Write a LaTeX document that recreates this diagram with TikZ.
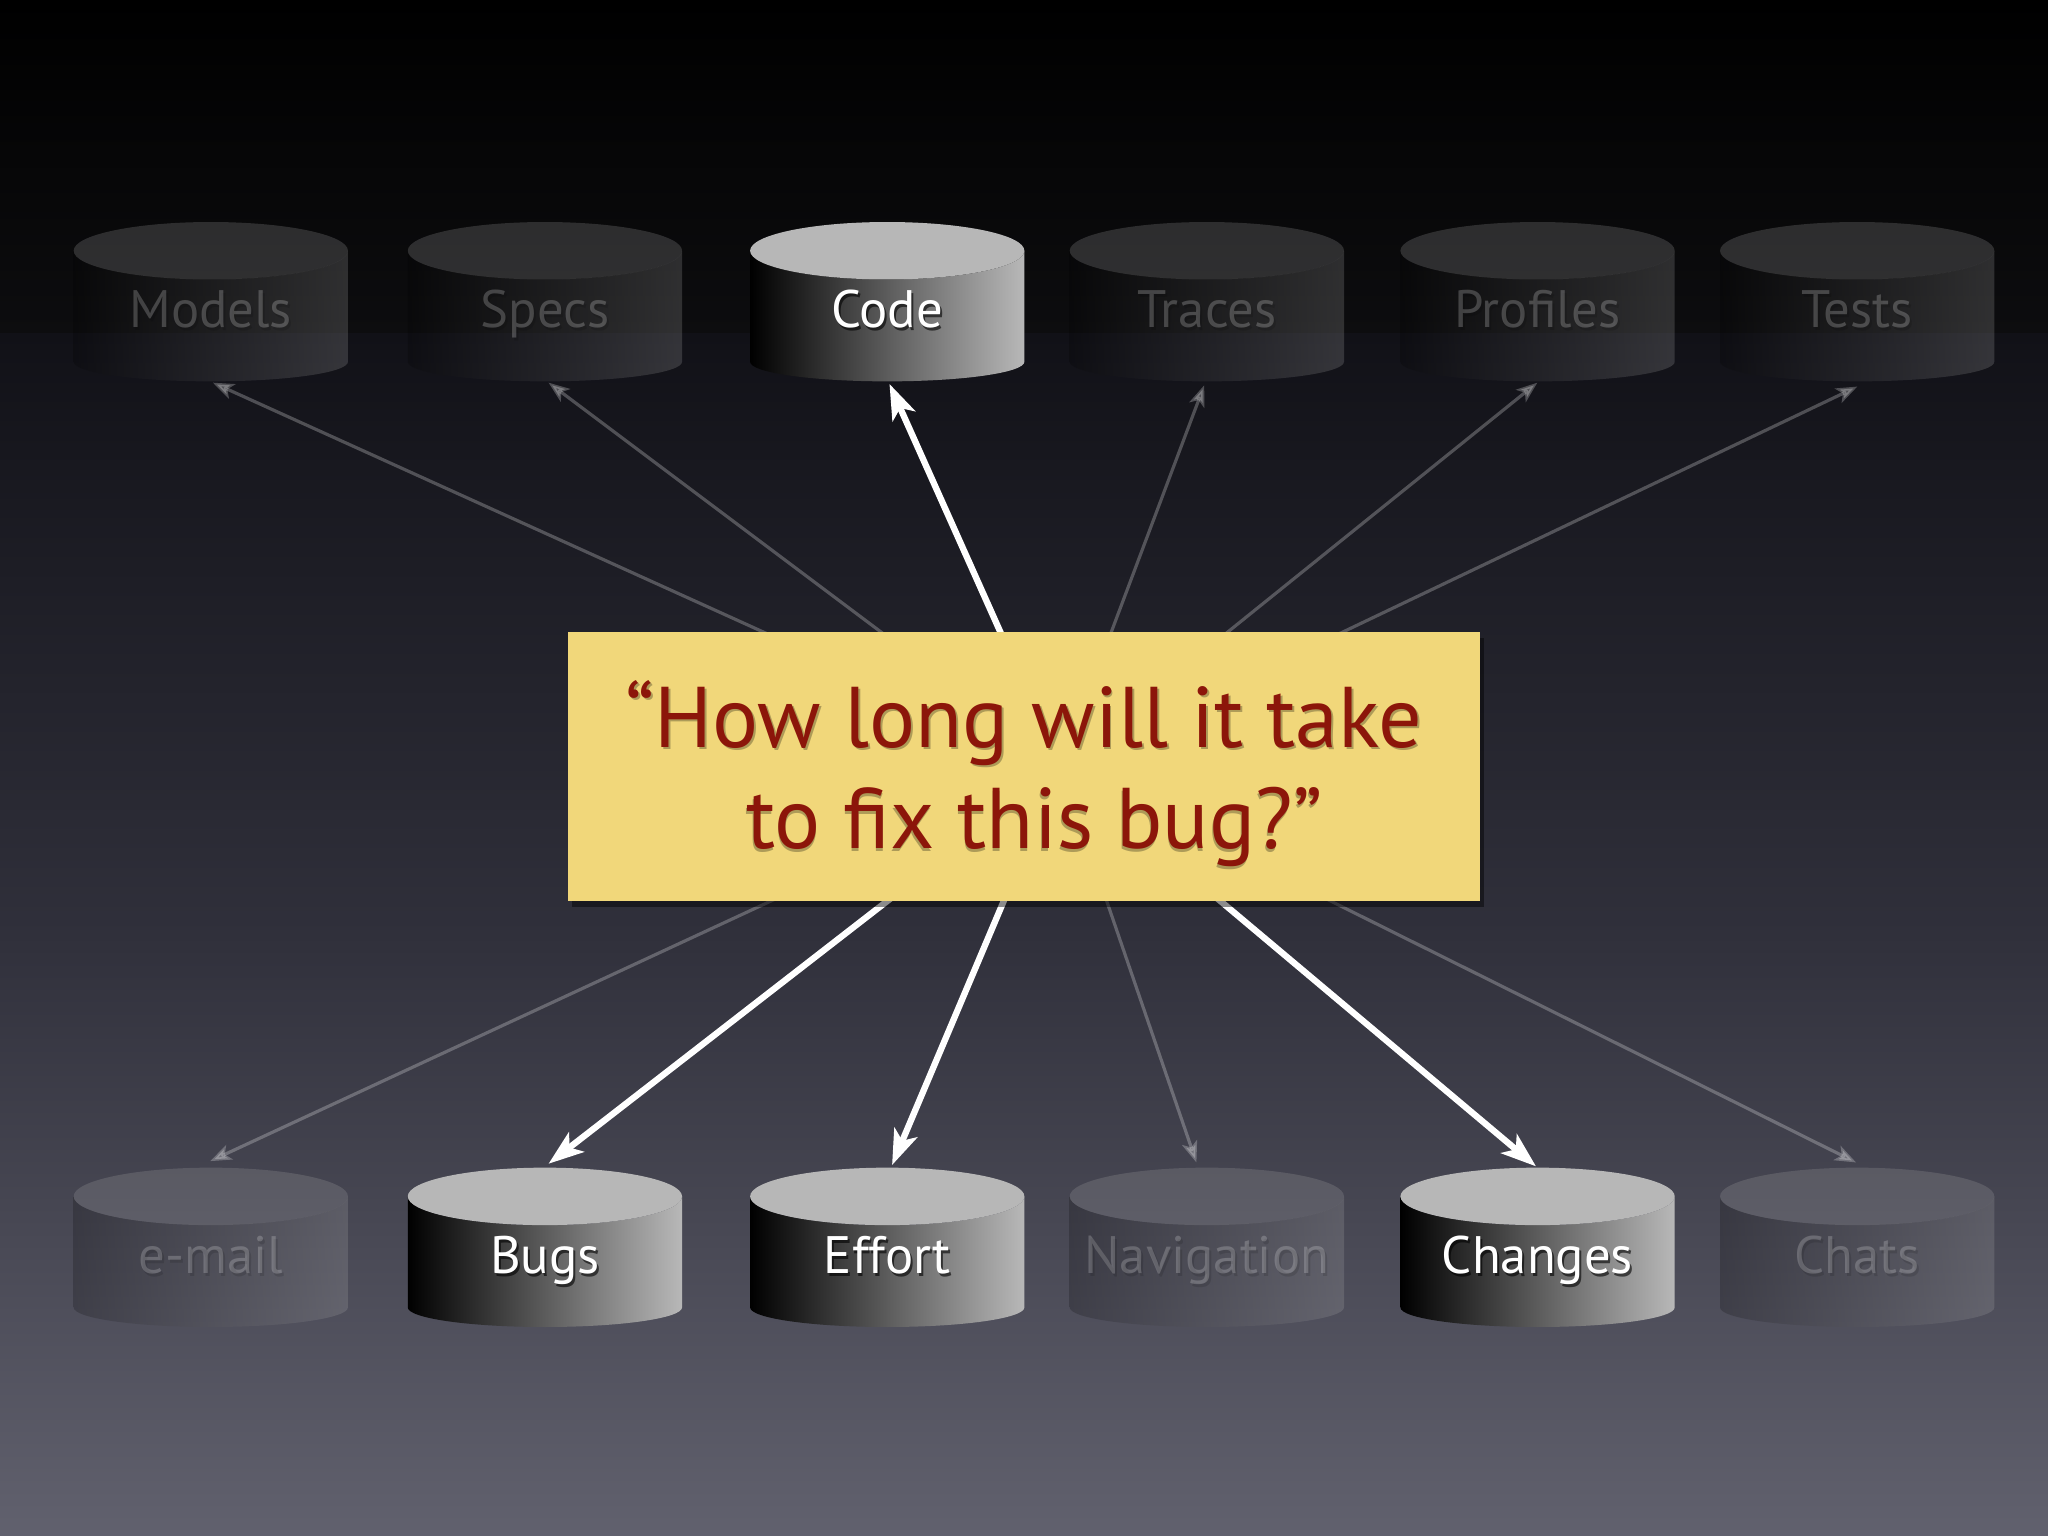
\documentclass[tikz,border=0pt]{standalone}
\usepackage{fontspec}
\setmainfont{PT Sans}
\usetikzlibrary{arrows.meta,shadows}
\definecolor{bgA}{RGB}{13,13,15}
\definecolor{bgB}{RGB}{17,17,23}
\definecolor{bgC}{RGB}{48,48,59}
\definecolor{bgD}{RGB}{97,97,110}
\definecolor{cyltop}{RGB}{183,183,183}
\definecolor{cylside}{RGB}{184,184,184}
\definecolor{paper}{RGB}{241,215,122}
\definecolor{qred}{RGB}{140,22,10}
\tikzset{
  lab/.style={text=white, font=\fontsize{15}{18}\selectfont, anchor=base, inner sep=0pt},
  labsh/.style={text=black, font=\fontsize{15}{18}\selectfont, anchor=base, inner sep=0pt},
  garrow/.style={draw=white, opacity=0.25, line width=0.9pt, -{Stealth[length=6pt,width=4.5pt,inset=1.5pt]}},
  warrow/.style={draw=white, line width=1.8pt, -{Stealth[length=10pt,width=7pt,inset=2.5pt]}},
  qtext/.style={text=qred, font=\fontsize{24.5}{29}\selectfont, anchor=base, inner sep=0pt},
  qsh/.style={text=black, opacity=0.28, font=\fontsize{24.5}{29}\selectfont, anchor=base, inner sep=0pt},
  qbox/.style={fill=paper, inner sep=0pt, minimum width=9.117cm, minimum height=2.691cm,
    drop shadow={fill=black, opacity=0.45, shadow xshift=1.2pt, shadow yshift=-1.6pt}}
}
% #1 name, #2 cx, #3 Y of top ellipse centre, #4 label, #5 opacity, #6 shadow opacity, #7 tip x, #8 tip Y
\newcommand\dbcyl[8]{%
  \begin{scope}[opacity=#5]
    \shade[left color=black, right color=cylside]
      ({#2-105},{#3}) -- ({#2-105},{#3-85})
      arc[start angle=180, end angle=360, x radius=105, y radius=15]
      -- ({#2+105},{#3})
      arc[start angle=0, end angle=-180, x radius=105, y radius=22] -- cycle;
    \fill[cyltop] (#2,#3) ellipse[x radius=105, y radius=22];
  \end{scope}
  \node[labsh, opacity=#6] at ({#2+1.5},{#3-61}) {#4};
  \node[lab, opacity=#5] (#1) at (#2,{#3-59}) {#4};
  \coordinate (#1-tip) at (#7,#8);
}
\begin{document}
\begin{tikzpicture}[x=0.013061cm, y=0.013061cm]
\useasboundingbox (0,0) rectangle (1568,1176);
% background
\shade[top color=black, bottom color=bgA] (0,1176) rectangle (1568,920);
\shade[top color=bgB, bottom color=bgC] (0,920.5) rectangle (1568,460);
\shade[top color=bgC, bottom color=bgD] (0,460.5) rectangle (1568,0);

% cylinders, top row
\dbcyl{models}{161.4}{984}{Models}{0.21}{0.12}{163}{883}
\dbcyl{specs}{417.2}{984}{Specs}{0.21}{0.12}{420}{883}
\dbcyl{code}{679.3}{984}{Code}{1}{0.6}{681}{882}
\dbcyl{traces}{924}{984}{Traces}{0.21}{0.12}{922}{881}
\dbcyl{profiles}{1177.2}{984}{Profiles}{0.21}{0.12}{1177}{883}
\dbcyl{tests}{1421.9}{984}{Tests}{0.21}{0.12}{1422}{880}
% cylinders, bottom row
\dbcyl{email}{161.4}{260}{e-mail}{0.2}{0.12}{161}{287}
\dbcyl{bugs}{417.2}{260}{Bugs}{1}{0.6}{420}{285}
\dbcyl{effort}{679.3}{260}{Effort}{1}{0.6}{683}{284}
\dbcyl{navigation}{924}{260}{Navigation}{0.2}{0.12}{916}{286}
\dbcyl{changes}{1177.2}{260}{Changes}{1}{0.6}{1176}{283}
\dbcyl{chats}{1421.9}{260}{Chats}{0.2}{0.12}{1421}{286}

% connectors
\coordinate (hub) at (812,589);
\foreach \t in {models,specs,traces,profiles,tests,email,navigation,chats}
  \draw[garrow] (hub) -- (\t-tip);
\foreach \t in {code,bugs,effort,changes}
  \draw[warrow] (hub) -- (\t-tip);

% question box
\node[qbox] (q) at (784,589) {};
\node[qsh] at (785.5,602) {“How long will it take};
\node[qsh] at (791.5,524) {to fix this bug?”};
\node[qtext] (q1) at (784,604) {“How long will it take};
\node[qtext] (q2) at (792,526) {to fix this bug?”};
\end{tikzpicture}
\end{document}
